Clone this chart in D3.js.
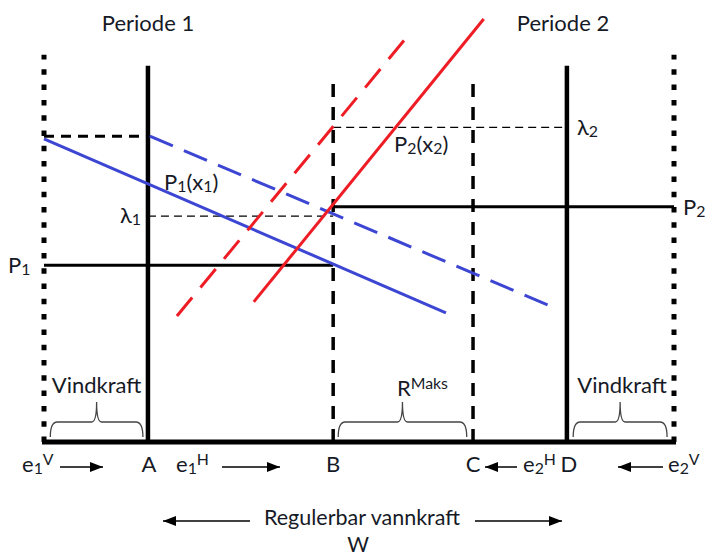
<!DOCTYPE html>
<html>
<head>
<meta charset="utf-8">
<script src="https://cdn.jsdelivr.net/npm/d3@7"></script>
<style>
  body { margin: 0; background: #fff; }
  text { font-family: Lato, "Open Sans", sans-serif; fill: #161a26; }
</style>
</head>
<body>
<div id="chart"></div>
<script>
// quantity axis points (share of total energy, 0..100)
var pointNames = ["e1V", "A", "B", "C", "D", "e2V"];
var pointQty = [0, 16.5, 45.9, 68.1, 83.0, 100];
var wallTop = [87.6, 85.1, 82.8, 82.8, 85.1, 87.6];

// price levels (0..100)
var priceNames = ["P1", "P2", "lambda1", "lambda2", "Pstart"];
var priceVals = [40.0, 53.2, 51.1, 71.2, 69.2];

// price curves: start and end points
var curveNames = ["P1(x1)", "P1 shifted", "P2(x2)", "P2 shifted"];
var curveX0 = [0, 16.8, 33.3, 21.1];
var curveY0 = [68.6, 69.2, 31.7, 28.5];
var curveX1 = [63.8, 80.0, 69.8, 58.1];
var curveY1 = [29.2, 31.0, 95.7, 92.5];

// braces below the labels
var braceNames = ["Vindkraft", "RMaks", "Vindkraft"];
var braceFrom = [1.0, 46.7, 84.0];
var braceTo = [15.7, 67.1, 98.9];

var width = 706, height = 556;

var svg = d3.select("#chart")
    .append("svg")
    .attr("width", width)
    .attr("height", height);

var x = d3.scaleLinear().domain([0, 100]).range([44, 674]);
var y = d3.scaleLinear().domain([0, 100]).range([442, 0]);

var defs = svg.append("defs");
defs.append("marker")
    .attr("id", "arrow")
    .attr("markerUnits", "userSpaceOnUse")
    .attr("viewBox", "0 0 13 10")
    .attr("refX", 13).attr("refY", 5)
    .attr("markerWidth", 13).attr("markerHeight", 10)
    .attr("orient", "auto")
    .append("path")
    .attr("d", "M0,0 L13,5 L0,10 Z")
    .attr("fill", "#000");

// vertical walls
var wallStyle = ["dotted", "solid", "dashed", "dashed", "solid", "dotted"];
pointQty.forEach(function (q, i) {
    var l = svg.append("line")
        .attr("x1", x(q)).attr("x2", x(q))
        .attr("y1", y(0)).attr("y2", y(wallTop[i]))
        .attr("stroke", "#000");
    if (wallStyle[i] === "dotted") {
        l.attr("stroke-width", 5).attr("stroke-dasharray", "5.5,9.8");
    } else if (wallStyle[i] === "dashed") {
        l.attr("stroke-width", 3.5).attr("stroke-dasharray", "13,10");
    } else {
        l.attr("stroke-width", 4.5);
    }
});

// price lines
function hline(p, q0, q1, w, dash) {
    svg.append("line")
        .attr("x1", x(q0)).attr("x2", x(q1))
        .attr("y1", y(p)).attr("y2", y(p))
        .attr("stroke", "#000")
        .attr("stroke-width", w)
        .attr("stroke-dasharray", dash);
}
hline(priceVals[0], pointQty[0], pointQty[2], 3, null);
hline(priceVals[1], pointQty[2], pointQty[5], 3, null);
hline(priceVals[2], pointQty[1], pointQty[2], 1.3, "8,5");
hline(priceVals[3], pointQty[2], pointQty[4], 1.3, "8,5");
hline(priceVals[4], pointQty[0], pointQty[1], 3, "10,7");

// curves
var curveColor = ["#3c46d2", "#3c46d2", "#ee1c25", "#ee1c25"];
var curveDash = [null, "25,12", null, "24,13"];
curveNames.forEach(function (name, i) {
    svg.append("line")
        .attr("x1", x(curveX0[i])).attr("y1", y(curveY0[i]))
        .attr("x2", x(curveX1[i])).attr("y2", y(curveY1[i]))
        .attr("stroke", curveColor[i])
        .attr("stroke-width", 3)
        .attr("stroke-dasharray", curveDash[i]);
});

// base line
svg.append("line")
    .attr("x1", x(0) - 2).attr("x2", x(100) + 2)
    .attr("y1", y(0)).attr("y2", y(0))
    .attr("stroke", "#000")
    .attr("stroke-width", 5);

// braces
braceNames.forEach(function (name, i) {
    var a = x(braceFrom[i]), b = x(braceTo[i]), m = (a + b) / 2;
    var yb = y(0) - 5, yh = y(0) - 20, yt = y(0) - 40;
    var path = "M" + a + "," + yb +
        " Q" + a + "," + yh + " " + (a + 7) + "," + yh +
        " L" + (m - 5) + "," + yh +
        " Q" + m + "," + yh + " " + m + "," + yt +
        " Q" + m + "," + yh + " " + (m + 5) + "," + yh +
        " L" + (b - 7) + "," + yh +
        " Q" + b + "," + yh + " " + b + "," + yb;
    svg.append("path")
        .attr("d", path)
        .attr("fill", "none")
        .attr("stroke", "#444")
        .attr("stroke-width", 1.3);
});

// text with sub/superscripts
function label(px, py, parts, size, anchor) {
    var t = svg.append("text")
        .attr("x", px).attr("y", py)
        .attr("text-anchor", anchor || "start")
        .style("font-size", size + "px");
    var shift = 0;
    parts.forEach(function (p) {
        var target = p[1] === "sub" ? 2 : p[1] === "sup" ? -7 : 0;
        t.append("tspan")
            .attr("dy", target - shift)
            .style("font-size", p[1] ? (size * 0.72) + "px" : null)
            .text(p[0]);
        shift = target;
    });
}

var fs = 22;
label(148, 31, [["Periode 1"]], fs, "middle");
label(563, 31, [["Periode 2"]], fs, "middle");
label(164, 190, [["P"], ["1", "sub"], ["(x"], ["1", "sub"], [")"]], fs);
label(394, 152, [["P"], ["2", "sub"], ["(x"], ["2", "sub"], [")"]], fs);
label(120, y(priceVals[2]) + 7, [["λ"], ["1", "sub"]], fs);
label(577, y(priceVals[3]) + 8, [["λ"], ["2", "sub"]], fs);
label(8, y(priceVals[0]) + 8, [["P"], ["1", "sub"]], fs);
label(683, y(priceVals[1]) + 8, [["P"], ["2", "sub"]], fs);

label((x(braceFrom[0]) + x(braceTo[0])) / 2, 393, [["Vindkraft"]], fs, "middle");
label((x(braceFrom[1]) + x(braceTo[1])) / 2 + 20, 396, [["R"], ["Maks", "sup"]], fs, "middle");
label((x(braceFrom[2]) + x(braceTo[2])) / 2 + 2, 393, [["Vindkraft"]], fs, "middle");

// bottom row
var by = 472;
label(22, by, [["e"], ["1", "sub"], ["V", "sup"]], fs);
label(x(pointQty[1]) + 1, by, [["A"]], fs, "middle");
label(176, by, [["e"], ["1", "sub"], ["H", "sup"]], fs);
label(x(pointQty[2]), by, [["B"]], fs, "middle");
label(x(pointQty[3]), by, [["C"]], fs, "middle");
label(523, by, [["e"], ["2", "sub"], ["H", "sup"]], fs);
label(x(pointQty[4]) + 2, by, [["D"]], fs, "middle");
label(668, by, [["e"], ["2", "sub"], ["V", "sup"]], fs);

function arrow(xa, xb, yy) {
    svg.append("line")
        .attr("x1", xa).attr("x2", xb)
        .attr("y1", yy).attr("y2", yy)
        .attr("stroke", "#000")
        .attr("stroke-width", 1.5)
        .attr("marker-end", "url(#arrow)");
}
arrow(60, 103, 467);
arrow(222, 280, 467);
arrow(517, 485, 467);
arrow(663, 618, 467);
arrow(250, 163, 521);
arrow(475, 562, 521);

label(362, 525, [["Regulerbar vannkraft"]], 21.5, "middle");
label(358, 551.5, [["W"]], 21, "middle");
</script>
</body>
</html>
